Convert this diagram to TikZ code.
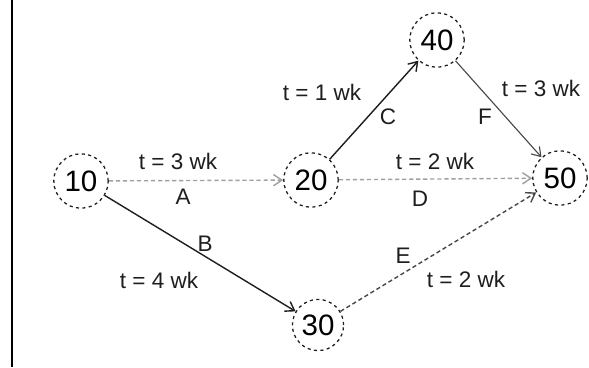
\documentclass[tikz,border=0pt]{standalone}
\usepackage{fontspec}
\setmainfont{Liberation Sans}
\usetikzlibrary{arrows.meta}
\definecolor{InkGray}{HTML}{1E1E1E}
\definecolor{FaintGray}{HTML}{A0A0A0}
\definecolor{MidGray}{HTML}{484848}

\begin{document}
\begin{tikzpicture}[
  x=0.025cm, y=-0.025cm,
  event/.style={circle, draw=InkGray, dash pattern=on 2.2pt off 2.4pt, line width=0.9pt,
                minimum size=1.36cm, inner sep=0pt, font=\fontsize{21}{21}\selectfont},
  act/.style={-{Straight Barb[length=6pt, width=8pt]}, InkGray, line width=1pt},
  faint/.style={act, FaintGray, densely dashed},
  lbl/.style={font=\fontsize{16}{16}\selectfont, text=InkGray, inner sep=1pt},
]
  \useasboundingbox (0,0) rectangle (589,367);
  \draw[line width=1.4pt] (12,0) -- (12,367);

  % events
  \node[event] (n10) at (81,181)  {10};
  \node[event] (n20) at (311,180) {20};
  \node[event] (n40) at (437,40)  {40};
  \node[event] (n50) at (560,178) {50};
  \node[event, minimum size=1.28cm] (n30) at (318,325) {30};

  % activities
  \draw[faint] (n10) -- (n20);
  \draw[act] (n10) -- (n30);
  \draw[act] (n20) -- (n40);
  \draw[faint] (n20) -- (n50);
  \draw[act, MidGray, densely dashed] (n30) -- (n50);
  \draw[act, MidGray, line width=0.8pt] (n40) -- (n50);

  % durations and names
  \node[lbl] (tA) at (178,161) {t = 3 wk};
  \node[lbl] (lA) at (183,197) {A};
  \node[lbl] (lB) at (205,244) {B};
  \node[lbl] (tB) at (159,280) {t = 4 wk};
  \node[lbl] (tC) at (322,92)  {t = 1 wk};
  \node[lbl] (lC) at (388,117) {C};
  \node[lbl] (lF) at (485,117) {F};
  \node[lbl] (tF) at (541,88)  {t = 3 wk};
  \node[lbl] (tD) at (435,161) {t = 2 wk};
  \node[lbl] (lD) at (420,199) {D};
  \node[lbl] (lE) at (403,256) {E};
  \node[lbl] (tE) at (466,279) {t = 2 wk};
\end{tikzpicture}
\end{document}
